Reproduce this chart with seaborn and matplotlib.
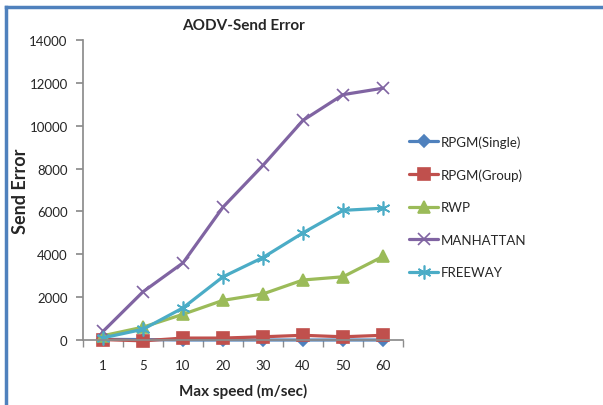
import matplotlib
matplotlib.use("Agg")
import matplotlib.pyplot as plt
from matplotlib.lines import Line2D
import pandas as pd
import seaborn as sns

# Data
speeds = ["1", "5", "10", "20", "30", "40", "50", "60"]
rpgm_single = [30, 20, 0, 0, 0, 0, 0, 0]
rpgm_group = [20, -40, 90, 90, 150, 220, 150, 220]
rwp = [200, 600, 1200, 1850, 2150, 2800, 2950, 3900]
manhattan = [400, 2250, 3600, 6200, 8150, 10250, 11450, 11750]
freeway = [100, 500, 1500, 2950, 3850, 5000, 6050, 6150]

series_names = ["RPGM(Single)", "RPGM(Group)", "RWP", "MANHATTAN", "FREEWAY"]
series_values = [rpgm_single, rpgm_group, rwp, manhattan, freeway]
colors = ["#4F81BD", "#C0504D", "#9BBB59", "#8064A2", "#4BACC6"]
markers = ["D", "s", "^", "x", (6, 2, 0)]
marker_sizes = [6, 8, 8.5, 9, 10]

sns.set_theme(style="white")
plt.rcParams.update({
    "font.family": ["Lato", "DejaVu Sans"],
    "font.size": 9,
})

fig = plt.figure(figsize=(6.03, 4.06), dpi=100)
ax = fig.add_axes([83 / 603, 65 / 406, 320 / 603, 300 / 406])

for name, vals, col, mk, ms in zip(series_names, series_values, colors, markers, marker_sizes):
    df = pd.DataFrame({"speed": speeds, "value": vals})
    sns.lineplot(data=df, x="speed", y="value", ax=ax, color=col, marker=mk,
                 markersize=ms, linewidth=2.3, markeredgecolor=col,
                 markeredgewidth=1.2, label=name, clip_on=False, sort=False)

ax.set_xlim(-0.5, len(speeds) - 0.5)
ax.set_ylim(0, 14000)
ax.set_yticks(range(0, 14001, 2000))
ax.set_xticks(range(len(speeds)))
ax.set_xticklabels(speeds)
ax.set_xticks([i - 0.5 for i in range(len(speeds) + 1)], minor=True)

for side in ["top", "right"]:
    ax.spines[side].set_visible(False)
ax.spines["left"].set_color("#8C8C8C")
ax.spines["bottom"].set_color("#8C8C8C")
ax.tick_params(axis="y", which="major", left=True, length=5, color="#8C8C8C",
               labelsize=9.5, pad=6)
ax.tick_params(axis="x", which="major", bottom=False, labelsize=9.5, pad=8)
ax.tick_params(axis="x", which="minor", bottom=True, length=5, color="#8C8C8C")

ax.set_title("AODV-Send Error", fontsize=11, fontweight="bold", pad=8)
ax.set_xlabel("Max speed (m/sec)", fontsize=11, fontweight="bold", labelpad=8)
ax.set_ylabel("Send Error", fontsize=13, fontweight="bold", labelpad=0)

ax.get_legend().remove()
handles, labels = ax.get_legend_handles_labels()
fig.legend(handles, labels, loc="upper left",
           bbox_to_anchor=(404 / 603, 1 - 131 / 406), frameon=False,
           fontsize=9.5, handlelength=2.2, handletextpad=0.15,
           labelspacing=1.55, borderaxespad=0)

# blue chart-area border, only left and top edges are visible in the reference
bx, by = 5.5 / 603, 1 - 7.5 / 406
fig.add_artist(Line2D([bx, bx], [0, by], transform=fig.transFigure,
                      color="#4F81BD", linewidth=2.5, solid_capstyle="projecting"))
fig.add_artist(Line2D([bx, 1], [by, by], transform=fig.transFigure,
                      color="#4F81BD", linewidth=2.5, solid_capstyle="projecting"))

fig.savefig("out.png", dpi=100)
